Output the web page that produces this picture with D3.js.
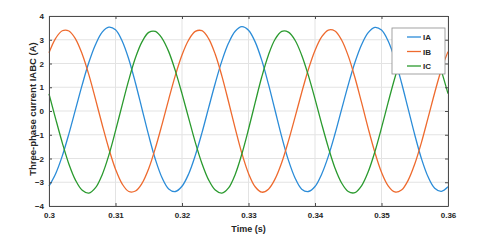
<!DOCTYPE html>
<html lang="en">
<head>
<meta charset="UTF-8">
<title>Three-phase current</title>
<script src="https://d3js.org/d3.v7.min.js"></script>
<style>
    body { margin: 0; background: #ffffff; }
    svg { display: block; font-family: "Liberation Sans", Arial, sans-serif; }
    .grid line { stroke: #e3e3e3; stroke-width: 1; }
    .axis path, .axis line { stroke: #4d4d4d; }
    .axis text { font-size: 8px; font-weight: bold; fill: #262626; }
    .line { fill: none; stroke-width: 1.3px; }
    .label { font-weight: bold; fill: #262626; }
</style>
</head>
<body>
<svg width="480" height="247"></svg>
<script>
    // sample times (s)
    const time = [0.300, 0.301, 0.302, 0.303, 0.304, 0.305, 0.306, 0.307, 0.308, 0.309,
        0.310, 0.311, 0.312, 0.313, 0.314, 0.315, 0.316, 0.317, 0.318, 0.319,
        0.320, 0.321, 0.322, 0.323, 0.324, 0.325, 0.326, 0.327, 0.328, 0.329,
        0.330, 0.331, 0.332, 0.333, 0.334, 0.335, 0.336, 0.337, 0.338, 0.339,
        0.340, 0.341, 0.342, 0.343, 0.344, 0.345, 0.346, 0.347, 0.348, 0.349,
        0.350, 0.351, 0.352, 0.353, 0.354, 0.355, 0.356, 0.357, 0.358, 0.359, 0.360];

    const IA = [-3.16, -2.64, -1.89, -0.95, 0.08, 1.11, 2.05, 2.80, 3.32, 3.53,
        3.42, 2.95, 2.18, 1.18, 0.07, -1.04, -2.04, -2.81, -3.28, -3.39,
        -3.17, -2.65, -1.87, -0.92, 0.13, 1.17, 2.11, 2.86, 3.36, 3.55,
        3.40, 2.91, 2.13, 1.13, 0.02, -1.09, -2.07, -2.82, -3.29, -3.39,
        -3.18, -2.66, -1.91, -0.97, 0.07, 1.10, 2.04, 2.79, 3.30, 3.52,
        3.41, 2.95, 2.19, 1.20, 0.10, -1.00, -2.00, -2.77, -3.25, -3.38, -3.19];

    const IB = [2.45, 3.06, 3.38, 3.37, 3.03, 2.39, 1.52, 0.49, -0.58, -1.59,
        -2.45, -3.07, -3.39, -3.37, -3.04, -2.42, -1.56, -0.56, 0.49, 1.50,
        2.36, 2.99, 3.35, 3.38, 3.05, 2.39, 1.47, 0.39, -0.73, -1.78,
        -2.63, -3.19, -3.42, -3.29, -2.86, -2.17, -1.27, -0.26, 0.78, 1.75,
        2.55, 3.12, 3.41, 3.37, 2.99, 2.32, 1.41, 0.36, -0.73, -1.74,
        -2.58, -3.15, -3.41, -3.33, -2.92, -2.23, -1.33, -0.29, 0.77, 1.75, 2.50];

    const IC = [0.72, -0.33, -1.34, -2.24, -2.92, -3.34, -3.46, -3.23, -2.68, -1.86,
        -0.84, 0.25, 1.31, 2.24, 2.92, 3.31, 3.35, 3.06, 2.50, 1.69,
        0.73, -0.30, -1.32, -2.21, -2.90, -3.33, -3.46, -3.24, -2.67, -1.81,
        -0.77, 0.35, 1.44, 2.36, 3.02, 3.35, 3.32, 2.98, 2.35, 1.50,
        0.51, -0.54, -1.53, -2.40, -3.03, -3.39, -3.44, -3.15, -2.56, -1.72,
        -0.71, 0.36, 1.39, 2.28, 2.94, 3.31, 3.35, 3.06, 2.50, 1.69, 0.73];

    const seriesNames = ["IA", "IB", "IC"];
    const seriesValues = [IA, IB, IC];
    const seriesColors = ["#2b8cd8", "#ee6a2e", "#2a9a2e"];

    const xTicks = [0.30, 0.31, 0.32, 0.33, 0.34, 0.35, 0.36];
    const yTicks = [-4, -3, -2, -1, 0, 1, 2, 3, 4];

    const svg = d3.select("svg"),
        margin = {top: 16, right: 32, bottom: 41, left: 49},
        width = +svg.attr("width") - margin.left - margin.right,
        height = +svg.attr("height") - margin.top - margin.bottom,
        g = svg.append("g").attr("transform", `translate(${margin.left},${margin.top})`);

    const x = d3.scaleLinear().domain([0.30, 0.36]).range([0, width]);
    const y = d3.scaleLinear().domain([-4, 4]).range([height, 0]);

    // grid
    g.append("g").attr("class", "grid")
        .selectAll("line.v").data(xTicks).join("line")
        .attr("x1", d => x(d)).attr("x2", d => x(d))
        .attr("y1", 0).attr("y2", height);
    g.append("g").attr("class", "grid")
        .selectAll("line.h").data(yTicks).join("line")
        .attr("x1", 0).attr("x2", width)
        .attr("y1", d => y(d)).attr("y2", d => y(d));

    // lines
    const line = d3.line()
        .x((d, i) => x(time[i]))
        .y(d => y(d))
        .curve(d3.curveCatmullRom);

    seriesValues.forEach((vals, k) => {
        g.append("path")
            .datum(vals)
            .attr("class", "line")
            .style("stroke", seriesColors[k])
            .attr("d", line);
    });

    // axes (box style, ticks pointing inward)
    const fmtX = d => d3.format(".2f")(d).replace(/0$/, "");
    g.append("g").attr("class", "axis")
        .attr("transform", `translate(0,${height})`)
        .call(d3.axisBottom(x).tickValues(xTicks).tickFormat(fmtX).tickSizeInner(-3).tickSizeOuter(0).tickPadding(6));
    g.append("g").attr("class", "axis")
        .call(d3.axisTop(x).tickValues(xTicks).tickFormat("").tickSizeInner(-3).tickSizeOuter(0));
    g.append("g").attr("class", "axis")
        .call(d3.axisLeft(y).tickValues(yTicks).tickFormat(d3.format("d")).tickSizeInner(-3).tickSizeOuter(0).tickPadding(5));
    g.append("g").attr("class", "axis")
        .attr("transform", `translate(${width},0)`)
        .call(d3.axisRight(y).tickValues(yTicks).tickFormat("").tickSizeInner(-3).tickSizeOuter(0));

    // axis labels
    g.append("text")
        .attr("class", "label")
        .attr("x", width / 2)
        .attr("y", height + 26)
        .attr("text-anchor", "middle")
        .style("font-size", "9px")
        .text("Time (s)");

    svg.append("text")
        .attr("class", "label")
        .attr("transform", "rotate(-90)")
        .attr("x", -(margin.top + height / 2) + 2)
        .attr("y", 36)
        .attr("text-anchor", "middle")
        .style("font-size", "9.5px")
        .text("Three-phase current IABC (A)");

    // legend
    const legend = g.append("g").attr("transform", `translate(${width - 56},12)`);
    legend.append("rect")
        .attr("width", 53).attr("height", 46)
        .attr("fill", "#ffffff")
        .attr("stroke", "#8c8c8c")
        .attr("stroke-width", 0.8);
    seriesNames.forEach((name, k) => {
        const row = legend.append("g").attr("transform", `translate(0,${9 + k * 14.5})`);
        row.append("line")
            .attr("x1", 15).attr("x2", 29)
            .attr("stroke", seriesColors[k])
            .attr("stroke-width", 1.3);
        row.append("text")
            .attr("x", 31).attr("y", 3)
            .style("font-size", "8px")
            .style("font-weight", "bold")
            .attr("fill", "#262626")
            .text(name);
    });
</script>
</body>
</html>
